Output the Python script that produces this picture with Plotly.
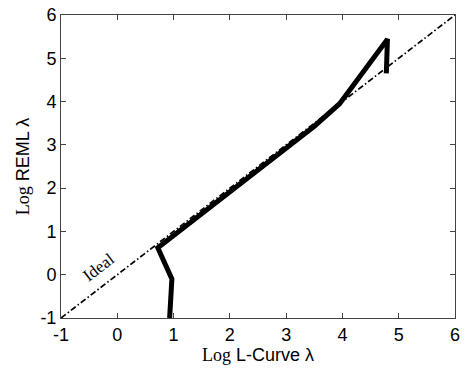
import plotly.graph_objects as go

# Estimated log regularisation parameters: L-curve vs REML
log_lcurve = [0.93, 0.95, 0.97, 0.72, 1.5, 2.5, 3.5, 3.95, 4.79, 4.80, 4.78]
log_reml = [-1.0, -0.5, -0.1, 0.62, 1.42, 2.42, 3.43, 3.95, 5.42, 5.45, 4.65]

# Ideal agreement line
ideal_x = [-1, 6]
ideal_y = [-1, 6]

tick_vals = [-1, 0, 1, 2, 3, 4, 5, 6]
tick_text = ["-1", "0", "1", "2", "3", "4", "5", "6"]

fig = go.Figure()
fig.add_trace(go.Scatter(
    x=ideal_x, y=ideal_y, mode="lines",
    line=dict(color="black", width=1.7, dash="6px,2.5px,1.5px,2.5px"),
    hoverinfo="skip", showlegend=False))
fig.add_trace(go.Scatter(
    x=log_lcurve, y=log_reml, mode="lines",
    line=dict(color="black", width=5),
    showlegend=False))

fig.add_annotation(
    x=-0.33, y=0.16, text="Ideal", showarrow=False,
    textangle=-37.5,
    font=dict(family="Liberation Serif, Times New Roman, serif", size=17, color="black"))

axis_common = dict(
    range=[-1, 6], tickvals=tick_vals, ticktext=tick_text,
    ticks="inside", ticklen=5, tickcolor="#444", tickwidth=1,
    showline=True, linecolor="#444", linewidth=1, mirror="allticks",
    showgrid=False, zeroline=False,
    tickfont=dict(family="Liberation Sans, Arial, sans-serif", size=18, color="black"),
)

title_font = dict(family="Liberation Sans, Arial, sans-serif", size=18, color="black")

fig.update_layout(
    width=465, height=371,
    margin=dict(l=61, r=5, t=12, b=53),
    paper_bgcolor="white", plot_bgcolor="white",
    xaxis=dict(
        **axis_common,
        title=dict(
            text="<span style='font-family:Liberation Serif'>Log</span> L-Curve λ",
            font=title_font, standoff=4),
    ),
    yaxis=dict(
        **axis_common,
        title=dict(
            text="<span style='font-family:Liberation Serif'>Log</span> REML λ",
            font=title_font, standoff=6),
    ),
)

fig.write_html("out.html")
